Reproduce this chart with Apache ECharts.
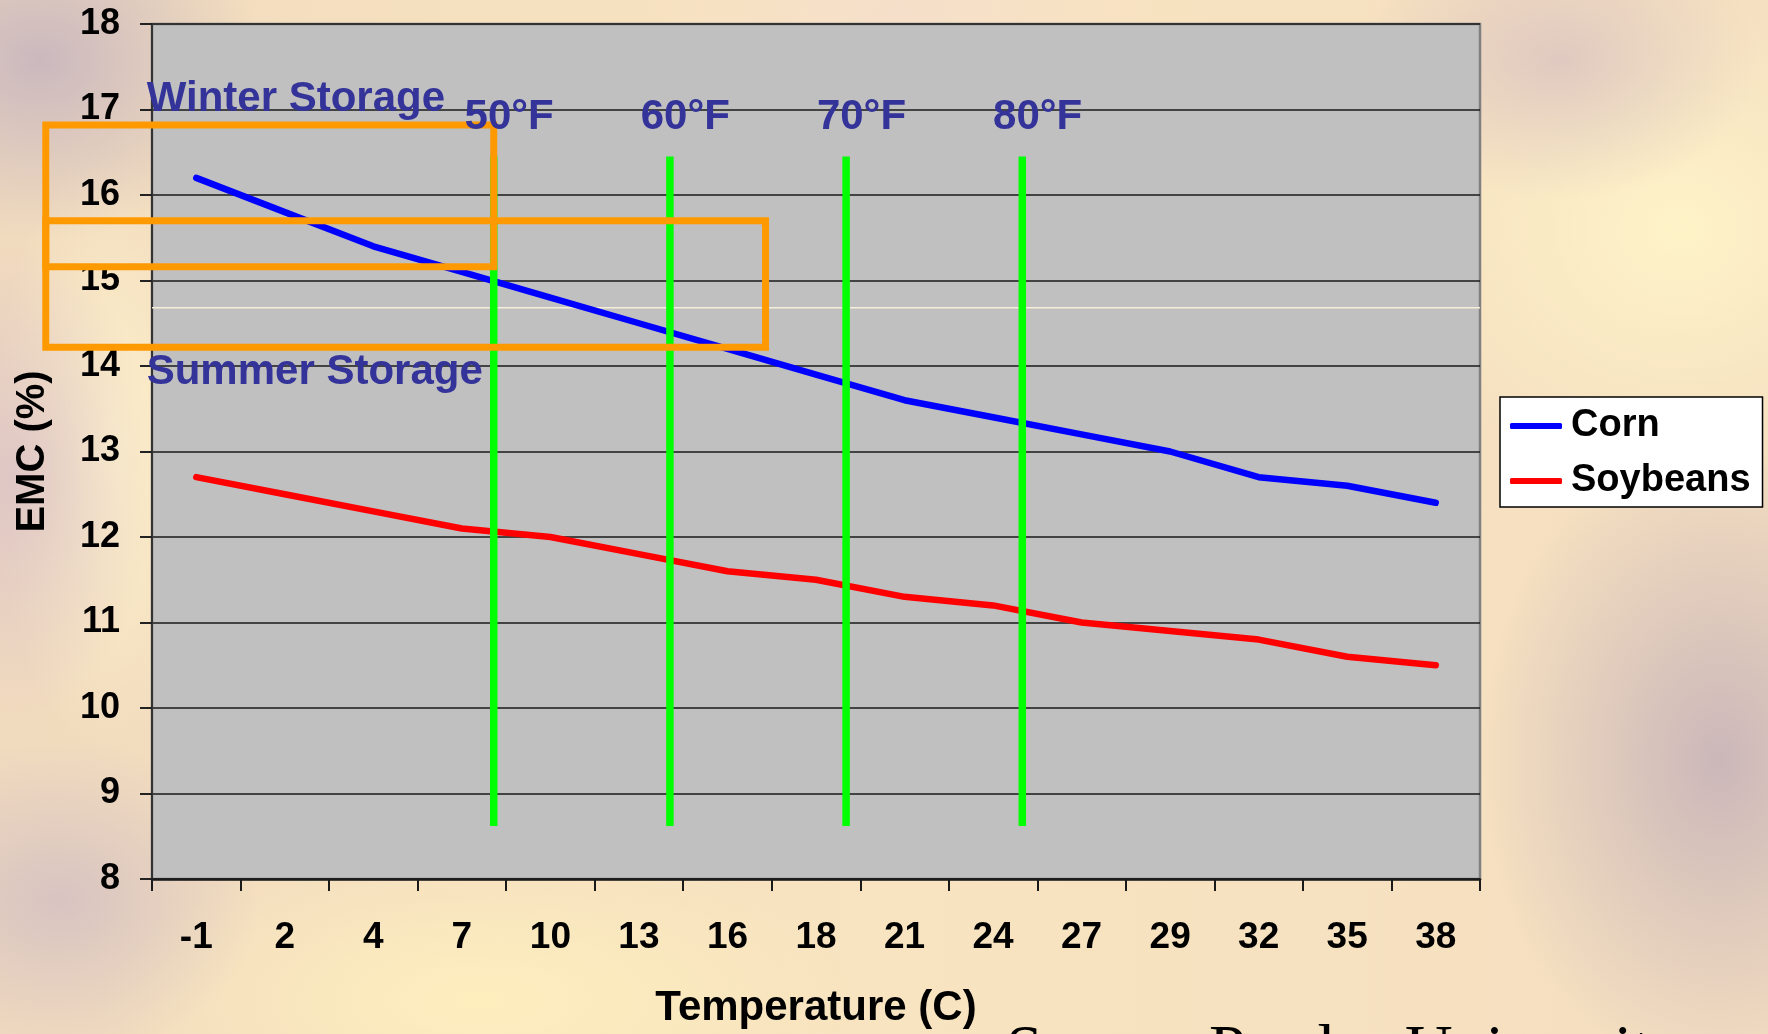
<!DOCTYPE html>
<html>
<head>
<meta charset="utf-8">
<title>EMC vs Temperature</title>
<script src="https://cdn.jsdelivr.net/npm/echarts@6/dist/echarts.min.js"></script>
<style>
  html, body { margin: 0; padding: 0; }
  body {
    width: 1768px; height: 1034px; overflow: hidden;
    background:
      radial-gradient(ellipse 220px 180px at 40px 60px, rgba(196,178,190,0.85), transparent),
      radial-gradient(ellipse 140px 240px at 15px 480px, rgba(214,188,200,0.7), transparent),
      radial-gradient(ellipse 200px 160px at 60px 900px, rgba(205,185,195,0.7), transparent),
      radial-gradient(ellipse 240px 320px at 1720px 760px, rgba(196,176,184,0.85), transparent),
      radial-gradient(ellipse 200px 140px at 1560px 60px, rgba(214,190,192,0.7), transparent),
      radial-gradient(ellipse 300px 260px at 1680px 230px, rgba(255,244,200,0.95), transparent),
      radial-gradient(ellipse 380px 160px at 480px 1000px, rgba(255,240,190,0.9), transparent),
      radial-gradient(ellipse 120px 300px at 110px 450px, rgba(255,243,205,0.9), transparent),
      radial-gradient(ellipse 260px 120px at 900px 10px, rgba(245,222,205,0.8), transparent),
      linear-gradient(90deg, #F1DBBE, #F8E4C0 50%, #F4DEC0);
  }
  #main { position: absolute; left: 0; top: 0; width: 1768px; height: 1034px; }
</style>
</head>
<body>
<div id="main"></div>
<script>
// temperature categories (C) and EMC values (%)
const temps = ['-1', '2', '4', '7', '10', '13', '16', '18', '21', '24', '27', '29', '32', '35', '38']
const corn = [16.2, 15.8, 15.4, 15.1, 14.8, 14.5, 14.2, 13.9, 13.6, 13.4, 13.2, 13.0, 12.7, 12.6, 12.4]
const soybeans = [12.7, 12.5, 12.3, 12.1, 12.0, 11.8, 11.6, 11.5, 11.3, 11.2, 11.0, 10.9, 10.8, 10.6, 10.5]

// fahrenheit guide lines, positions on a 0..15 band scale
const fLabels = ['50°F', '60°F', '70°F', '80°F']
const fPos = [3.86, 5.85, 7.84, 9.83]
const guideRange = [8.62, 16.45]

// storage boxes: [x0, x1, yTop, yBottom]
const winterBox = [-1.2, 3.86, 16.82, 15.16]
const summerBox = [-1.2, 6.93, 15.70, 14.22]
const glareY = 14.68

const FONT = '"Liberation Sans", Arial, sans-serif'
const NAVY = '#333399'

const chart = echarts.init(document.getElementById('main'))

const guideSeries = fPos.map(x => ({
    type: 'line',
    xAxisIndex: 1,
    symbol: 'none',
    silent: true,
    z: 5,
    lineStyle: { color: '#00FF00', width: 7.5, cap: 'butt' },
    data: [[x, guideRange[0]], [x, guideRange[1]]]
}))

const option = {
    animation: false,
    backgroundColor: 'transparent',
    grid: {
        left: 152, top: 24, width: 1328, height: 857,
        show: true,
        backgroundColor: '#C0C0C0',
        borderColor: '#808080',
        borderWidth: 2.5
    },
    legend: {
        data: [
            { name: 'Corn', icon: 'roundRect' },
            { name: 'Soybeans', icon: 'roundRect' }
        ],
        orient: 'vertical',
        left: 1500, top: 397,
        backgroundColor: '#FFFFFF',
        borderColor: '#000000',
        borderWidth: 1.5,
        borderRadius: 0,
        padding: [9, 12, 6, 10],
        itemGap: 15,
        itemWidth: 52,
        itemHeight: 6,
        textStyle: { fontFamily: FONT, fontWeight: 'bold', fontSize: 38, color: '#000', lineHeight: 40, padding: [0, 0, 0, 4] }
    },
    xAxis: [
        {
            type: 'category',
            data: temps,
            boundaryGap: true,
            name: 'Temperature (C)',
            nameLocation: 'middle',
            nameGap: 108,
            nameTextStyle: { fontFamily: FONT, fontWeight: 'bold', fontSize: 42, color: '#000' },
            axisLine: { lineStyle: { color: '#1a1a1a', width: 2.5 } },
            axisTick: { show: true, length: 12, lineStyle: { color: '#1a1a1a', width: 2 } },
            axisLabel: { fontFamily: FONT, fontWeight: 'bold', fontSize: 37, color: '#000', margin: 40 },
            splitLine: { show: false }
        },
        {
            type: 'value',
            min: 0, max: 15,
            show: false
        }
    ],
    yAxis: {
        type: 'value',
        min: 8, max: 18, interval: 1,
        name: 'EMC (%)',
        nameLocation: 'middle',
        nameGap: 99,
        nameTextStyle: { fontFamily: FONT, fontWeight: 'bold', fontSize: 40, color: '#000' },
        axisLine: { show: true, lineStyle: { color: '#333', width: 2 } },
        axisTick: { show: true, length: 12, lineStyle: { color: '#222', width: 2 } },
        axisLabel: { fontFamily: FONT, fontWeight: 'bold', fontSize: 36, color: '#000', margin: 32 },
        splitLine: { show: true, lineStyle: { color: '#1a1a1a', width: 1.5 } }
    },
    series: [
        {
            name: 'Corn', type: 'line', data: corn, symbol: 'none', z: 3,
            color: '#0000FF',
            lineStyle: { color: '#0000FF', width: 6.5, cap: 'round', join: 'round' }
        },
        {
            name: 'Soybeans', type: 'line', data: soybeans, symbol: 'none', z: 3,
            color: '#FF0000',
            lineStyle: { color: '#FF0000', width: 6.5, cap: 'round', join: 'round' }
        },
        {
            type: 'line', xAxisIndex: 1, symbol: 'none', silent: true, z: 2,
            lineStyle: { color: '#F7EEDA', width: 1.5 },
            data: [[0, glareY], [15, glareY]]
        },
        ...guideSeries
    ]
}

chart.setOption(option)

// annotation shapes placed through the chart's own scales
const px = v => chart.convertToPixel({ xAxisIndex: 1 }, v)
const py = v => chart.convertToPixel({ yAxisIndex: 0 }, v)

const boxGraphic = b => ({
    type: 'rect',
    z: 100,
    silent: true,
    shape: { x: px(b[0]), y: py(b[2]), width: px(b[1]) - px(b[0]), height: py(b[3]) - py(b[2]) },
    style: { fill: 'none', stroke: '#FF9900', lineWidth: 7 }
})

const navyText = (text, x, baselineValue) => ({
    type: 'text',
    z: 101,
    silent: true,
    x: px(x),
    y: py(baselineValue) - 10,
    style: {
        text: text,
        fontFamily: FONT, fontWeight: 'bold', fontSize: 42,
        fill: NAVY, align: 'left', verticalAlign: 'middle'
    }
})

// source credit, cut off at the bottom edge
const SERIF = '"Liberation Serif", "Times New Roman", serif'
const sourceText = (text, left) => ({
    type: 'text', z: 101, silent: true,
    left: left, top: 1020,
    style: { text: text, fontFamily: SERIF, fontSize: 66, fill: '#000' }
})

const graphics = [
    boxGraphic(winterBox),
    boxGraphic(summerBox),
    navyText('Winter Storage', -0.06, 17.0),
    navyText('Summer Storage', -0.06, 13.81),
    ...fLabels.map((t, i) => navyText(t, fPos[i] - 0.33, 16.79)),
    sourceText('Source:', 1006),
    sourceText('Purdue', 1209),
    sourceText('University', 1405)
]

chart.setOption({ graphic: graphics })

window.onresize = function () {
    chart.resize()
}
</script>
</body>
</html>
